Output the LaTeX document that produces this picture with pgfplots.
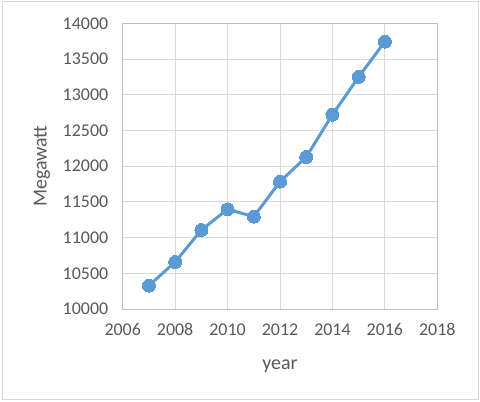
\documentclass[border=0pt]{standalone}
\usepackage{pgfplots}
\pgfplotsset{compat=1.18}
\usepackage{fontspec}
\setmainfont{Carlito}
\definecolor{xlblue}{HTML}{5B9BD5}
\definecolor{xltext}{HTML}{595959}
\definecolor{xlgrid}{HTML}{D9D9D9}
\begin{document}
\begin{tikzpicture}
\useasboundingbox (0,0) rectangle (480bp,402bp);
\fill[white] (0,0) rectangle (480bp,402bp);
\draw[xlgrid, line width=1bp] (2bp,2bp) rectangle (478bp,400bp);
\begin{axis}[
  at={(122.7bp,93bp)}, anchor=south west,
  scale only axis, width=314.6bp, height=285.7bp,
  xmin=2006, xmax=2018, ymin=10000, ymax=14000,
  xtick={2006,2008,...,2018}, ytick={10000,10500,...,14000},
  scaled y ticks=false, scaled x ticks=false,
  major tick length=0pt,
  grid=major,
  grid style={draw=xlgrid, line width=1bp},
  axis line style={draw=black!25, line width=1bp},
  /pgf/number format/1000 sep={},
  /pgf/number format/assume math mode=true,
  tick label style={font=\fontsize{18}{21}\selectfont, text=xltext},
  yticklabel style={xshift=-11bp},
  xticklabel style={yshift=-11bp},
  xlabel={year}, ylabel={Megawatt},
  label style={font=\fontsize{20}{24}\selectfont, text=xltext},
  xlabel style={at={([yshift=-60bp]axis description cs:0.5,0)}, anchor=base},
  ylabel style={at={([xshift=-76bp]axis description cs:0,0.5)}, anchor=base},
]
\addplot[xlblue, line width=3bp, mark=*, mark size=6.5bp, mark options={fill=xlblue, draw=xlblue, line width=0pt}]
  coordinates {(2007,10327) (2008,10658) (2009,11106) (2010,11396) (2011,11293)
               (2012,11783) (2013,12128) (2014,12721) (2015,13249) (2016,13743)};
\end{axis}
\end{tikzpicture}
\end{document}
